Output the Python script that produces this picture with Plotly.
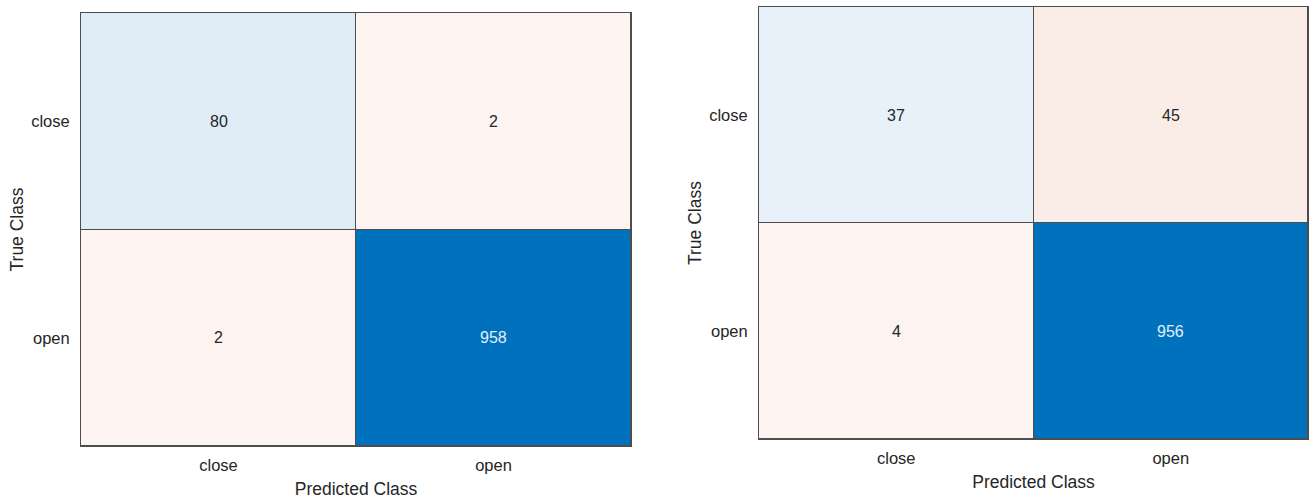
import plotly.graph_objects as go

# Class labels shared by both confusion matrices
classes = ["close", "open"]

# Counts: rows = true class, columns = predicted class
counts_a = [[80, 2],
            [2, 958]]
counts_b = [[37, 45],
            [4, 956]]

W, H = 1309, 499
FONT = "Liberation Sans, Arial, sans-serif"
TXT = "#262626"

# Diagonal (correct) cells run white -> blue, off-diagonal cells white -> pale orange
diag_scale_a = [[0, "#ffffff"], [80 / 958, "#dfecf6"], [1, "#0072bd"]]
diag_scale_b = [[0, "#ffffff"], [37 / 956, "#e8f1f9"], [1, "#0072bd"]]
off_scale_a = [[0, "#ffffff"], [1, "#fdf3f0"]]
off_scale_b = [[0, "#ffffff"], [4 / 45, "#fdf4f1"], [1, "#faede7"]]

panels = [
    dict(z=counts_a, dscale=diag_scale_a, oscale=off_scale_a,
         xdom=(81, 631), ydom=(13, 446)),
    dict(z=counts_b, dscale=diag_scale_b, oscale=off_scale_b,
         xdom=(759, 1308), ydom=(7, 439)),
]

fig = go.Figure()
annotations = []
n = len(classes)

for k, p in enumerate(panels, start=1):
    z = p["z"]
    diag = [[z[i][j] if i == j else None for j in range(n)] for i in range(n)]
    off = [[z[i][j] if i != j else None for j in range(n)] for i in range(n)]
    dmax = max(z[i][i] for i in range(n))
    omax = max(z[i][j] for i in range(n) for j in range(n) if i != j)
    xa, ya = ("x", "y") if k == 1 else (f"x{k}", f"y{k}")

    fig.add_trace(go.Heatmap(z=diag, x=list(range(n)), y=list(range(n)),
                             colorscale=p["dscale"], zmin=0, zmax=dmax,
                             showscale=False, xgap=1, ygap=1,
                             xaxis=xa, yaxis=ya, hoverinfo="skip"))
    fig.add_trace(go.Heatmap(z=off, x=list(range(n)), y=list(range(n)),
                             colorscale=p["oscale"], zmin=0, zmax=omax,
                             showscale=False, xgap=1, ygap=1,
                             xaxis=xa, yaxis=ya, hoverinfo="skip"))

    for i in range(n):
        for j in range(n):
            v = z[i][j]
            dark = (i == j) and v / dmax > 0.5
            annotations.append(dict(
                x=j, y=i, xref=xa, yref=ya, text=str(v), showarrow=False,
                font=dict(family=FONT, size=16,
                          color="#e3eef8" if dark else TXT)))

    x0, x1 = p["xdom"]
    y0, y1 = p["ydom"]
    axis_common = dict(showline=True, linecolor="#4d4d4d", linewidth=1,
                       mirror=True, showgrid=False, zeroline=False,
                       ticks="", tickvals=list(range(n)), ticktext=classes,
                       tickfont=dict(family=FONT, size=16.5, color=TXT),
                       range=[-0.5, n - 0.5], fixedrange=True)
    fig.update_layout(**{
        ("xaxis" if k == 1 else f"xaxis{k}"): dict(
            axis_common, domain=[x0 / W, x1 / W], anchor=ya,
            ticklabelstandoff=4,
            title=dict(text="Predicted Class",
                       font=dict(family=FONT, size=17.5, color=TXT), standoff=9)),
        ("yaxis" if k == 1 else f"yaxis{k}"): dict(
            axis_common, domain=[1 - y1 / H, 1 - y0 / H], anchor=xa,
            autorange=False, range=[n - 0.5, -0.5], ticklabelstandoff=7,
            title=dict(text="True Class",
                       font=dict(family=FONT, size=17.5, color=TXT), standoff=3)),
    })

fig.update_layout(
    width=W, height=H,
    margin=dict(l=0, r=0, t=0, b=0),
    paper_bgcolor="white", plot_bgcolor="#4d4d4d",
    annotations=annotations,
    showlegend=False,
)

fig.write_html("out.html")
